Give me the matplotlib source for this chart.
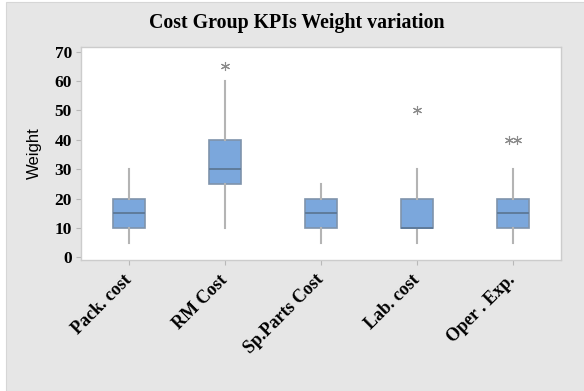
import matplotlib.pyplot as plt
from matplotlib.patches import Rectangle

# Kosten-Gruppen und Kennzahlen der Boxplots
categories = ["Pack. cost", "RM Cost", "Sp.Parts Cost", "Lab. cost", "Oper . Exp."]
q1 = [10, 25, 10, 10, 10]
median = [15, 30, 15, 10, 15]
q3 = [20, 40, 20, 20, 20]
whisker_low = [5, 10, 5, 5, 5]
whisker_high = [30, 60, 25, 30, 30]
outliers = [[], [65], [], [50], [40, 40]]

box_color = "#7ba7dc"
edge_color = "#7f93ab"
median_color = "#5f7b9b"
grey = "#b4b4b4"

W, H = 584, 391
fig = plt.figure(figsize=(W / 100, H / 100), dpi=100)
fig.patch.set_facecolor("white")
# grauer Hintergrund mit schmalem weissen Rand links/oben
fig.patches.append(Rectangle((6 / W, 0), 1, 1 - 2 / H,
                             transform=fig.transFigure, facecolor="#e6e6e6",
                             edgecolor="#d6d6d6", linewidth=0.8, zorder=-5))

ax = fig.add_axes([81 / W, 1 - 260 / H, 480 / W, 213.3 / H])
ax.set_facecolor("white")

stats = []
for i, name in enumerate(categories):
    stats.append(dict(label=name, q1=q1[i], med=median[i], q3=q3[i],
                      whislo=whisker_low[i], whishi=whisker_high[i], fliers=[]))

pos = list(range(1, len(categories) + 1))
ax.bxp(stats, positions=pos, widths=0.33, patch_artist=True, showcaps=False,
       boxprops=dict(facecolor=box_color, edgecolor=edge_color, linewidth=1.2),
       medianprops=dict(color=median_color, linewidth=1.4),
       whiskerprops=dict(color=grey, linewidth=1.5))

# Ausreisser als Sternchen, gleiche Werte leicht versetzt
for p, vals in zip(pos, outliers):
    n = len(vals)
    for k, v in enumerate(vals):
        dx = (k - (n - 1) / 2) * 0.09
        ax.plot(p + dx, v, marker=(6, 2, 0), color="#8c8c8c", markersize=6.5,
                markeredgewidth=0.8, linestyle="none")

ax.set_xlim(0.5, 5.5)
ax.set_ylim(-0.9, 71.7)
ax.set_yticks(range(0, 71, 10))
ax.set_xticks(pos)
ax.set_xticklabels(categories, rotation=45, ha="right", va="center",
                   rotation_mode="anchor", family="Liberation Serif",
                   fontweight="bold", fontsize=13)
for lab in ax.get_yticklabels():
    lab.set_family("Liberation Serif")
    lab.set_fontweight("bold")
    lab.set_fontsize(12.5)

for s in ax.spines.values():
    s.set_color("#cccccc")
    s.set_linewidth(1.0)
ax.tick_params(axis="both", color="#b8b8b8", length=3.5, width=0.8, pad=3)
ax.tick_params(axis="x", pad=9)

ax.set_ylabel("Weight", family="Liberation Sans", fontsize=12, labelpad=9)
fig.text(297 / W, 1 - 23 / H, "Cost Group KPIs Weight variation",
         ha="center", va="center", family="Liberation Serif",
         fontweight="bold", fontsize=14.3)

fig.savefig("out.png", dpi=100)
